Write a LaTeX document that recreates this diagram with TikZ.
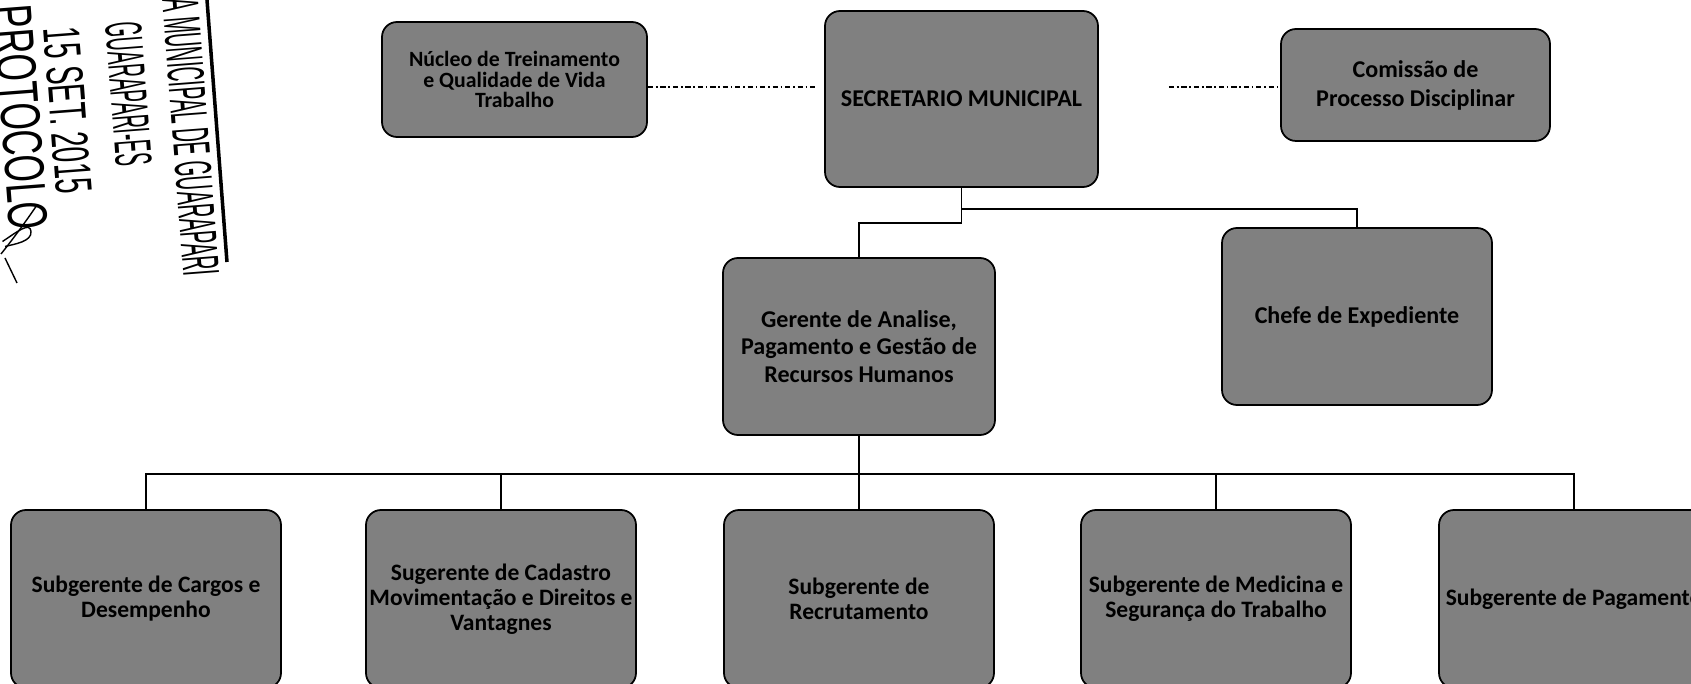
\documentclass[tikz,border=0pt]{standalone}
\usepackage{fontspec}
\setmainfont{Carlito}
\newfontfamily\stampfont{Liberation Sans}
\usepackage{graphicx}
\usetikzlibrary{positioning}
\tikzset{
    mynode/.style = {rectangle, rounded corners=0.3cm, line width=1pt, draw=black, align=center, fill=black!50, inner sep=1pt, font=\bfseries\fontsize{13.7pt}{15.5pt}\selectfont, text=black},
    mynodes/.style = {mynode, font=\bfseries\fontsize{12.4pt}{11.8pt}\selectfont},
    mynodeb/.style = {mynode, minimum width=5.4cm, minimum height=3.56cm, font=\bfseries\fontsize{13.4pt}{14.3pt}\selectfont},
    edgen/.style = {-, line width=0.8pt, black},
    edgedd/.style = {-, line width=0.8pt, black, dash pattern=on 3pt off 1.6pt on 0.9pt off 1.6pt}, % side links
    stampt/.style = {rotate=-85.6, anchor=west, inner sep=0pt, font=\stampfont},
}
\begin{document}
\begin{tikzpicture}
\useasboundingbox (0,0) rectangle (33.82,13.68);
%
\node[mynodes, minimum width=5.3cm, minimum height=2.3cm] at (10.29,12.09) (nucleo) {Núcleo de Treinamento\\e Qualidade de Vida\\Trabalho};
\node[mynode, minimum width=5.46cm, minimum height=3.52cm] at (19.23,11.70) (secretario) {SECRETARIO MUNICIPAL};
\node[mynode, minimum width=5.38cm, minimum height=2.24cm, font=\bfseries\fontsize{13.7pt}{16.5pt}\selectfont] at (28.31,11.98) (comissao) {Comissão de\\Processo Disciplinar};
\node[mynode, minimum width=5.44cm, minimum height=3.54cm] at (17.18,6.75) (gerente) {Gerente de Analise,\\Pagamento e Gestão de\\Recursos Humanos};
\node[mynode, minimum width=5.4cm, minimum height=3.54cm] at (27.14,7.35) (chefe) {Chefe de Expediente};
\node[mynodeb] at (2.92,1.70) (suba) {Subgerente de Cargos e\\Desempenho};
\node[mynodeb] at (10.02,1.70) (subb) {Sugerente de Cadastro\\Movimentação e Direitos e\\Vantagnes};
\node[mynodeb] at (17.18,1.70) (subc) {Subgerente de\\Recrutamento};
\node[mynodeb] at (24.32,1.70) (subd) {Subgerente de Medicina e\\Segurança do Trabalho};
\node[mynodeb] at (31.48,1.70) (sube) {Subgerente de Pagamento};
%
\draw[edgedd, shorten >=0.16cm] ([yshift=-0.15cm]nucleo.east) -- ([yshift=-0.15cm]nucleo.east -| secretario.west);
\draw[edgedd, shorten <=1.4cm] ([yshift=-0.04cm]comissao.west -| secretario.east) -- ([yshift=-0.04cm]comissao.west);
\draw[edgen] (secretario.south) -- ++(0,-0.42) -| (chefe.north);
\draw[edgen] (secretario.south) -- ++(0,-0.70) -| (gerente.north);
\foreach \n in {suba,subb,subc,subd,sube}
    \draw[edgen] (gerente.south) -- ++(0,-0.76) -| (\n.north);
%
% protocol stamp
\node[stampt] at (3.60,13.72) (stampa) {\scalebox{0.38}[1]{\fontsize{29.6pt}{30pt}\selectfont A MUNICIPAL DE GUARAPARI}};
\node[stampt] at (2.46,13.24) (stampb) {\scalebox{0.37}[1]{\fontsize{29.6pt}{30pt}\selectfont GUARAPARI-ES}};
\node[stampt] at (1.23,13.14) (stampc) {\scalebox{0.535}[1]{\fontsize{29.6pt}{30pt}\selectfont 15 SET. 2015}};
\node[stampt] at (0.24,13.58) (stampd) {\scalebox{0.63}[1]{\fontsize{31.9pt}{32pt}\selectfont PROTOCOLO}};
\draw[line width=2pt] (4.14,13.68) -- (4.54,8.44);
\draw[line width=0.8pt] (0.02,8.60) .. controls (0.30,8.95) and (0.55,9.30) .. (0.72,9.55);
\draw[line width=0.8pt] (0.05,8.85) .. controls (0.35,9.05) and (0.60,9.25) .. (0.62,9.05) .. controls (0.64,8.85) and (0.30,8.80) .. (0.10,8.75);
\draw[line width=0.8pt] (0.10,8.52) -- (0.34,8.02);
\end{tikzpicture}
\end{document}
